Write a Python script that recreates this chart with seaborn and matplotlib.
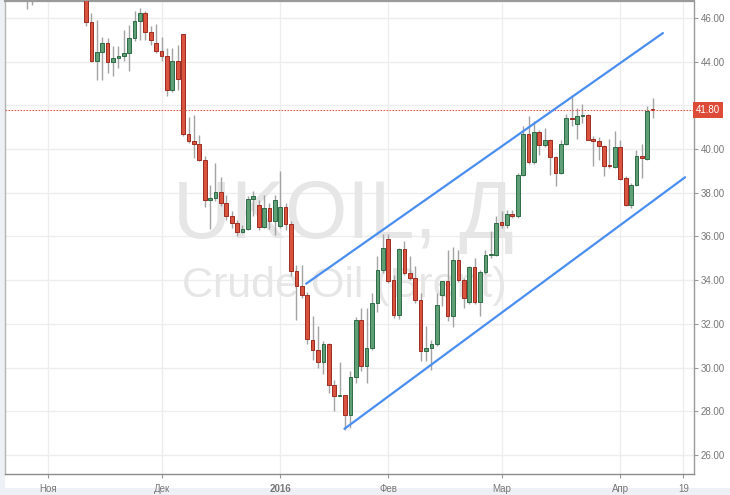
import numpy as np
import pandas as pd
import matplotlib
matplotlib.use('Agg')
import matplotlib.pyplot as plt
import matplotlib.transforms as mtransforms
from matplotlib.patches import Rectangle
import seaborn as sns

# Daily UKOIL candles (trading days, Oct 21 2015 .. Apr 11 2016)
opens = [48.70, 47.85, 48.10, 47.90, 47.50, 46.90, 49.00, 48.80, 49.60, 48.80, 50.50, 48.60, 48.00, 47.40, 47.20,
         47.20, 45.82, 44.02, 44.43, 44.86, 43.99, 44.17, 44.25, 44.40, 45.08, 45.85, 46.23, 45.36, 44.86, 44.50,
         44.25, 42.69, 44.05, 45.27, 40.69, 40.38, 40.23, 39.50, 37.68, 37.76, 38.02, 37.53, 36.95, 36.62, 36.20,
         36.34, 37.73, 37.45, 36.42, 37.30, 36.69, 36.46, 37.35, 36.58, 34.40, 33.72, 33.30, 31.28, 30.82, 30.24,
         31.08, 29.22, 28.68, 28.73, 27.85, 29.57, 32.19, 30.06, 30.90, 32.96, 34.48, 35.88, 33.99, 32.42, 35.43,
         34.33, 34.10, 33.08, 30.74, 30.90, 31.08, 33.30, 33.95, 32.35, 34.94, 33.99, 32.99, 34.59, 32.99, 34.39,
         35.14, 35.14, 36.65, 36.54, 37.03, 36.92, 38.83, 40.71, 39.39, 40.77, 40.20, 40.40, 39.64, 38.91, 40.25,
         41.42, 41.16, 41.50, 41.57, 40.46, 40.35, 40.16, 39.28, 39.18, 40.10, 38.67, 37.46, 38.37, 39.70, 39.56,
         41.83]
highs = [48.90, 48.30, 48.40, 48.00, 47.70, 49.10, 49.40, 49.90, 49.80, 50.80, 50.60, 49.00, 48.20, 47.90, 47.50,
         47.40, 46.23, 45.92, 45.13, 45.08, 44.70, 44.73, 45.47, 45.69, 46.30, 46.46, 46.30, 45.65, 45.74, 45.13,
         44.63, 44.63, 44.78, 45.27, 41.47, 41.55, 40.66, 39.70, 38.37, 39.36, 38.72, 37.91, 37.15, 36.74, 36.54,
         37.84, 38.06, 37.68, 37.91, 37.53, 37.91, 38.98, 37.53, 36.70, 34.71, 34.71, 33.45, 32.38, 31.89, 31.20,
         31.12, 29.45, 30.24, 28.76, 29.83, 32.31, 32.73, 32.73, 33.41, 35.09, 36.13, 36.13, 34.25, 35.47, 35.78,
         35.09, 34.63, 33.41, 31.89, 31.28, 33.41, 33.97, 35.40, 35.50, 35.40, 34.10, 34.66, 35.02, 34.45, 35.40,
         36.23, 36.92, 37.15, 37.23, 37.20, 38.90, 41.04, 41.50, 41.27, 40.89, 40.96, 40.45, 39.70, 40.43, 41.62,
         42.49, 41.88, 42.06, 41.62, 40.61, 40.54, 40.18, 40.46, 40.81, 40.40, 38.78, 38.45, 39.94, 40.23, 41.96,
         42.34]
lows = [47.70, 47.30, 47.80, 46.90, 46.41, 46.58, 48.30, 48.50, 48.40, 48.60, 48.50, 47.80, 47.20, 47.00, 46.90,
        45.62, 43.98, 43.18, 43.15, 43.48, 43.33, 43.71, 44.02, 43.56, 44.95, 45.00, 45.00, 44.78, 44.40, 44.02,
        42.41, 42.60, 42.69, 40.58, 40.28, 39.59, 39.44, 37.35, 36.34, 37.61, 37.38, 36.77, 36.39, 36.00, 36.16,
        36.28, 36.92, 36.31, 36.39, 36.34, 36.08, 36.39, 36.31, 34.20, 32.20, 33.20, 31.10, 30.33, 29.98, 29.72,
        28.84, 28.00, 28.68, 27.16, 27.23, 29.29, 29.83, 29.29, 30.80, 32.53, 34.33, 33.87, 32.27, 32.22, 34.25,
        34.02, 32.96, 30.29, 30.29, 29.90, 31.00, 32.80, 32.11, 31.87, 33.90, 32.73, 32.90, 32.90, 32.38, 34.30,
        35.00, 35.10, 36.40, 36.40, 36.85, 36.85, 38.75, 39.33, 39.30, 39.74, 40.10, 38.83, 38.33, 38.85, 40.20,
        41.04, 40.46, 41.19, 40.40, 39.21, 39.52, 38.75, 39.13, 39.13, 38.57, 37.41, 37.30, 38.33, 38.68, 39.50,
        41.42]
closes = [47.85, 48.10, 47.99, 47.50, 46.90, 49.00, 48.80, 49.60, 48.80, 50.50, 48.60, 48.00, 47.40, 47.20, 47.20,
          45.82, 44.02, 44.44, 44.86, 43.99, 44.17, 44.25, 44.40, 45.08, 45.85, 46.23, 45.34, 44.98, 44.47, 44.25,
          42.69, 44.05, 43.21, 40.69, 40.38, 40.23, 39.48, 37.68, 37.76, 38.02, 37.53, 36.95, 36.62, 36.20, 36.34,
          37.73, 37.84, 36.42, 37.30, 36.69, 37.68, 37.35, 36.57, 34.40, 33.75, 33.34, 31.30, 30.79, 30.24, 31.08,
          29.22, 28.68, 28.72, 27.85, 29.57, 32.19, 30.06, 30.90, 32.96, 34.48, 35.47, 33.95, 32.42, 35.43, 34.33,
          34.10, 33.08, 30.74, 30.90, 31.08, 32.88, 33.95, 32.35, 34.94, 33.99, 33.19, 34.59, 32.99, 34.39, 35.14,
          35.16, 36.62, 36.54, 37.03, 36.92, 38.83, 40.71, 39.39, 40.77, 40.20, 40.43, 39.64, 38.91, 40.25, 41.42,
          41.38, 41.50, 41.57, 40.43, 40.35, 40.13, 39.24, 39.21, 40.10, 38.63, 37.46, 38.37, 39.67, 39.59, 41.73,
          41.80]

tick_labels = ['Ноя', 'Дек', '2016', 'Фев', 'Мар', 'Апр', '19']
tick_index = [8, 29, 51, 71, 92, 114, 125.7]

price_ticks = [26, 28, 30, 32, 34, 36, 38, 40, 42, 44, 46]
last_price = 41.80

# channel lines (index, price)
upper_x = [55.8, 121.9]
upper_y = [33.84, 45.31]
lower_x = [62.9, 126.0]
lower_y = [27.20, 38.71]

title_main = 'UKOIL, Д'
title_sub = 'Crude Oil (Brent)'

df = pd.DataFrame({'o': opens, 'h': highs, 'l': lows, 'c': closes})
df['x'] = np.arange(len(df))
df['up'] = df['c'] >= df['o']

sns.set_theme(style='white')
plt.rcParams['font.family'] = ['Liberation Sans', 'DejaVu Sans']

W, H = 730, 495
fig = plt.figure(figsize=(7.3, 4.95), dpi=100, facecolor='#edf1f5')
fig.patches.append(Rectangle((5 / W, 7 / H), 1 - 5 / W, 1 - 7 / H, transform=fig.transFigure,
                             facecolor='white', edgecolor='none', zorder=-10))
ax = fig.add_axes([5 / W, 21 / H, 689 / W, 472.5 / H])
ax.set_zorder(1)
ax.set_facecolor('white')

# watermark
ax.text(0.244, 0.4995, title_main, transform=ax.transAxes, fontsize=58, color='#e6e6e6',
        ha='left', va='baseline', zorder=0.6)
ax.text(0.257, 0.3746, title_sub, transform=ax.transAxes, fontsize=31, color='#e6e6e6',
        ha='left', va='baseline', zorder=0.6)

# wicks
ax.vlines(df['x'], df['l'], df['h'], color='#a3a3a3', lw=1.0, zorder=2)
# bodies
body_h = (df['c'] - df['o']).abs().clip(lower=0.05)
body_b = df[['o', 'c']].min(axis=1)
fills = np.where(df['up'], '#5e9f76', '#d9533f')
edges = np.where(df['up'], '#2f6a46', '#9c2c22')
ax.bar(df['x'], body_h, bottom=body_b, width=0.68, color=fills, edgecolor=edges, linewidth=0.7, zorder=3)

# channel lines via seaborn
lines = pd.DataFrame({'x': upper_x + lower_x, 'y': upper_y + lower_y,
                      'line': ['upper', 'upper', 'lower', 'lower']})
sns.lineplot(data=lines, x='x', y='y', units='line', estimator=None, color='#4a8ef0', lw=1.6,
             ax=ax, zorder=4, legend=False)

# last price dotted line
ax.axhline(last_price, color='#e0604f', lw=0.8, ls=(0, (1.5, 1.2)), zorder=3.5)

ax.set_xlim(0.0, 127.66)
ax.set_ylim(25.13, 46.755)

ax.yaxis.tick_right()
ax.set_yticks(price_ticks)
ax.set_yticklabels(['' if abs(p - 42) < 1e-9 else f'{p:.2f}' for p in price_ticks])
ax.set_xticks(tick_index)
ax.set_xticklabels(tick_labels)
for lab in ax.get_xticklabels():
    if lab.get_text() == '2016':
        lab.set_fontweight('bold')
        lab.set_color('#555555')
ax.tick_params(axis='y', which='both', right=True, left=False, length=3, width=0.8, color='#999999',
               labelsize=7, labelcolor='#777777', pad=2)
ax.tick_params(axis='x', which='both', bottom=True, length=3, width=0.8, color='#999999',
               labelsize=7, labelcolor='#777777', pad=4)
ax.set_xlabel('')
ax.set_ylabel('')
ax.grid(True, color='#ededed', lw=1.0, zorder=0)
ax.set_axisbelow(True)

for side, col, lw in [('left', '#b5b5b5', 1.0), ('top', '#9a9a9a', 1.6),
                      ('right', '#9a9a9a', 1.0), ('bottom', '#8c8c8c', 1.0)]:
    ax.spines[side].set_visible(True)
    ax.spines[side].set_color(col)
    ax.spines[side].set_linewidth(lw)

trans = mtransforms.blended_transform_factory(ax.transAxes, ax.transData)
ax.text(1.003, last_price, f'{last_price:.2f}', transform=trans, ha='left', va='center',
        color='white', fontsize=7, zorder=6, clip_on=False,
        bbox=dict(boxstyle='square,pad=0.3', fc='#dd4a37', ec='none'))

fig.savefig('out.png', dpi=100, facecolor=fig.get_facecolor())
